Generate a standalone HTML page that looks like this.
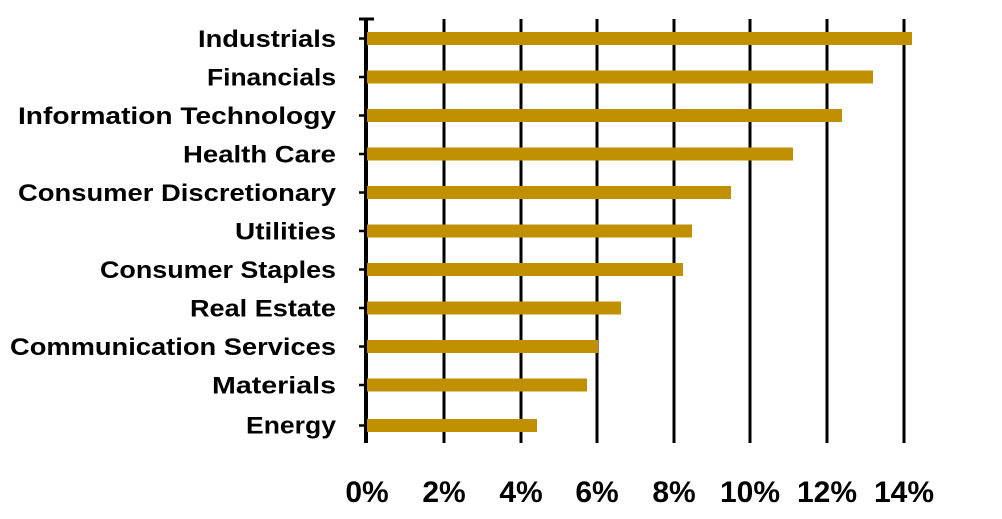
<!DOCTYPE html>
<html><head><style>body{margin:0;background:#fff}svg{display:block}</style></head><body>
<svg width="1002" height="519" xmlns="http://www.w3.org/2000/svg" font-family="Liberation Sans, sans-serif" font-weight="bold">
<g stroke="#000" stroke-width="3">
<line x1="444" y1="19" x2="444" y2="443"/><line x1="521" y1="19" x2="521" y2="443"/><line x1="597" y1="19" x2="597" y2="443"/><line x1="674" y1="19" x2="674" y2="443"/><line x1="750" y1="19" x2="750" y2="443"/><line x1="827" y1="19" x2="827" y2="443"/><line x1="904" y1="19" x2="904" y2="443"/>
<line x1="366" y1="18" x2="366" y2="443" stroke-width="4"/><line x1="359" y1="19" x2="374" y2="19"/>
</g>
<g stroke="#000" stroke-width="2.5">
<line x1="359" y1="38.5" x2="374" y2="38.5"/><line x1="359" y1="77" x2="374" y2="77"/><line x1="359" y1="115.5" x2="374" y2="115.5"/><line x1="359" y1="154" x2="374" y2="154"/><line x1="359" y1="192.5" x2="374" y2="192.5"/><line x1="359" y1="231" x2="374" y2="231"/><line x1="359" y1="269.5" x2="374" y2="269.5"/><line x1="359" y1="308" x2="374" y2="308"/><line x1="359" y1="346.5" x2="374" y2="346.5"/><line x1="359" y1="385" x2="374" y2="385"/><line x1="359" y1="425.5" x2="374" y2="425.5"/>
</g>
<g fill="#c09000">
<rect x="367" y="32" width="545" height="13"/>
<rect x="367" y="70.5" width="506" height="13"/>
<rect x="367" y="109" width="475" height="13"/>
<rect x="367" y="147.5" width="426" height="13"/>
<rect x="367" y="186" width="364" height="13"/>
<rect x="367" y="224.5" width="325" height="13"/>
<rect x="367" y="263" width="316" height="13"/>
<rect x="367" y="301.5" width="254" height="13"/>
<rect x="367" y="340" width="231" height="13"/>
<rect x="367" y="378.5" width="220" height="13"/>
<rect x="367" y="419" width="170" height="13"/>
</g>
<g font-size="24" text-anchor="end" fill="#000">
<text x="336" y="47" textLength="138" lengthAdjust="spacingAndGlyphs">Industrials</text>
<text x="336" y="85.5" textLength="129" lengthAdjust="spacingAndGlyphs">Financials</text>
<text x="336" y="124" textLength="318" lengthAdjust="spacingAndGlyphs">Information Technology</text>
<text x="336" y="162.5" textLength="153" lengthAdjust="spacingAndGlyphs">Health Care</text>
<text x="336" y="201" textLength="318" lengthAdjust="spacingAndGlyphs">Consumer Discretionary</text>
<text x="336" y="239.5" textLength="101" lengthAdjust="spacingAndGlyphs">Utilities</text>
<text x="336" y="278" textLength="236" lengthAdjust="spacingAndGlyphs">Consumer Staples</text>
<text x="336" y="316.5" textLength="146" lengthAdjust="spacingAndGlyphs">Real Estate</text>
<text x="336" y="355" textLength="326" lengthAdjust="spacingAndGlyphs">Communication Services</text>
<text x="336" y="393.5" textLength="124" lengthAdjust="spacingAndGlyphs">Materials</text>
<text x="336" y="433.5" textLength="90" lengthAdjust="spacingAndGlyphs">Energy</text>
</g>
<g font-size="30" text-anchor="middle" fill="#000">
<text x="367" y="502">0%</text><text x="444" y="502">2%</text><text x="521" y="502">4%</text><text x="597" y="502">6%</text><text x="674" y="502">8%</text><text x="750" y="502">10%</text><text x="827" y="502">12%</text><text x="904" y="502">14%</text>
</g>
</svg>
</body></html>
